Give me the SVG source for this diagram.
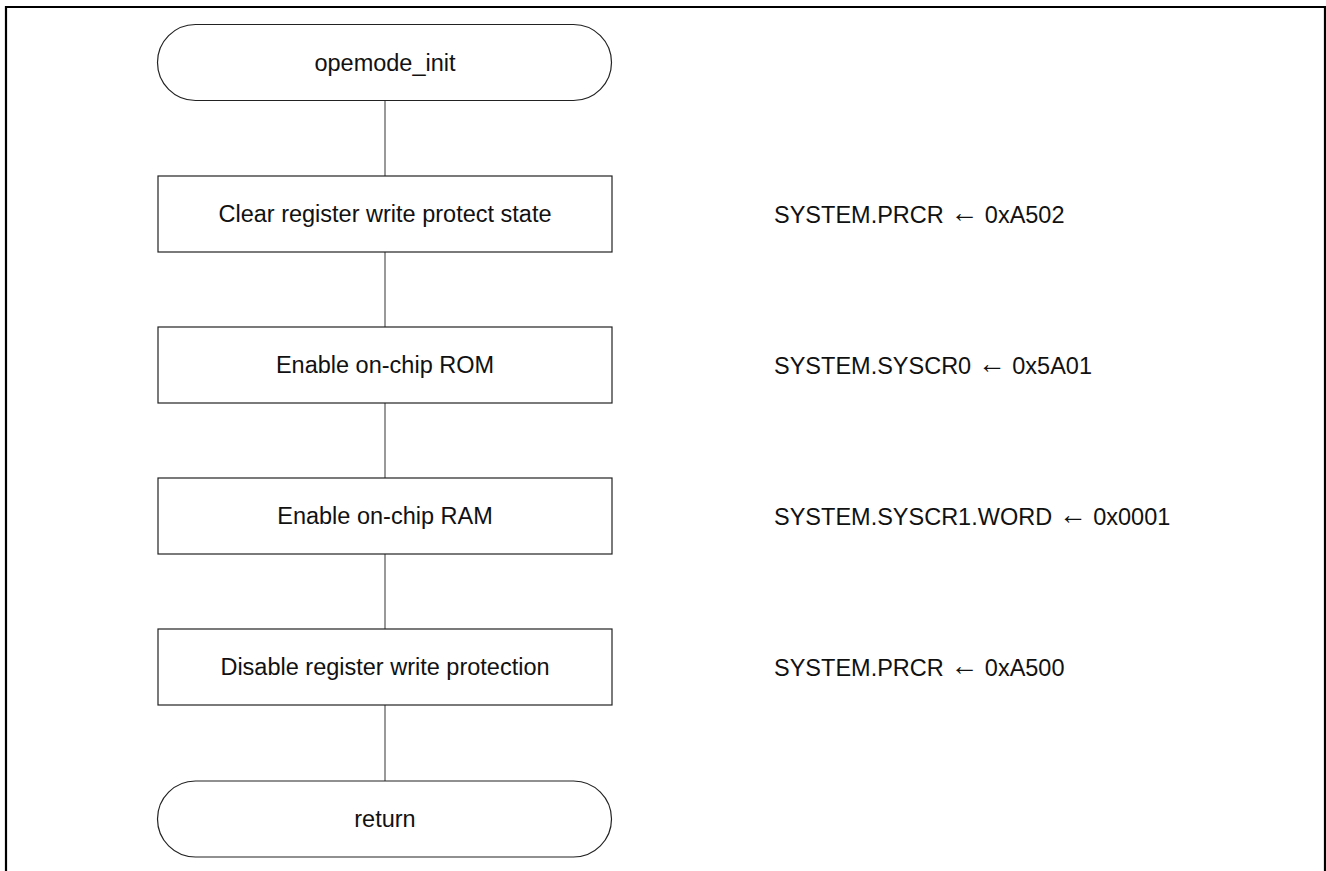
<svg xmlns="http://www.w3.org/2000/svg" width="1326" height="871" viewBox="0 0 1326 871">
<style>
.shape{fill:#fff;stroke:#222;stroke-width:1.2}
.conn{stroke:#555;stroke-width:1.2;fill:none}
.t{font-family:"Liberation Sans",Arial,sans-serif;font-size:23.5px;fill:#111;text-anchor:middle}
.r{font-family:"Liberation Sans",Arial,sans-serif;font-size:23.5px;fill:#111;text-anchor:start}
.arr{font-size:28px;baseline-shift:1.5px}
</style>
<rect width="1326" height="871" fill="#fff"/>
<path d="M6,871 V7 H1325 V871" fill="none" stroke="#000" stroke-width="2.2"/>
<g id="connectors">
<line class="conn" x1="385" y1="100" x2="385" y2="176"/>
<line class="conn" x1="385" y1="252" x2="385" y2="327"/>
<line class="conn" x1="385" y1="403" x2="385" y2="478"/>
<line class="conn" x1="385" y1="554" x2="385" y2="629"/>
<line class="conn" x1="385" y1="705" x2="385" y2="781"/>
</g>
<g id="start">
<rect class="shape" x="157.5" y="24.5" width="454" height="76" rx="38" ry="38"/>
<text class="t" x="385" y="70.5">opemode_init</text>
</g>
<g id="step1">
<rect class="shape" x="158" y="176" width="454" height="76"/>
<text class="t" x="385" y="222">Clear register write protect state</text>
<text class="r" x="774" y="223">SYSTEM.PRCR <tspan class="arr">←</tspan> 0xA502</text>
</g>
<g id="step2">
<rect class="shape" x="158" y="327" width="454" height="76"/>
<text class="t" x="385" y="373">Enable on-chip ROM</text>
<text class="r" x="774" y="374">SYSTEM.SYSCR0 <tspan class="arr">←</tspan> 0x5A01</text>
</g>
<g id="step3">
<rect class="shape" x="158" y="478" width="454" height="76"/>
<text class="t" x="385" y="524">Enable on-chip RAM</text>
<text class="r" x="774" y="525">SYSTEM.SYSCR1.WORD <tspan class="arr">←</tspan> 0x0001</text>
</g>
<g id="step4">
<rect class="shape" x="158" y="629" width="454" height="76"/>
<text class="t" x="385" y="675">Disable register write protection</text>
<text class="r" x="774" y="676">SYSTEM.PRCR <tspan class="arr">←</tspan> 0xA500</text>
</g>
<g id="end">
<rect class="shape" x="157.5" y="781" width="454" height="76" rx="38" ry="38"/>
<text class="t" x="385" y="827">return</text>
</g>
</svg>
